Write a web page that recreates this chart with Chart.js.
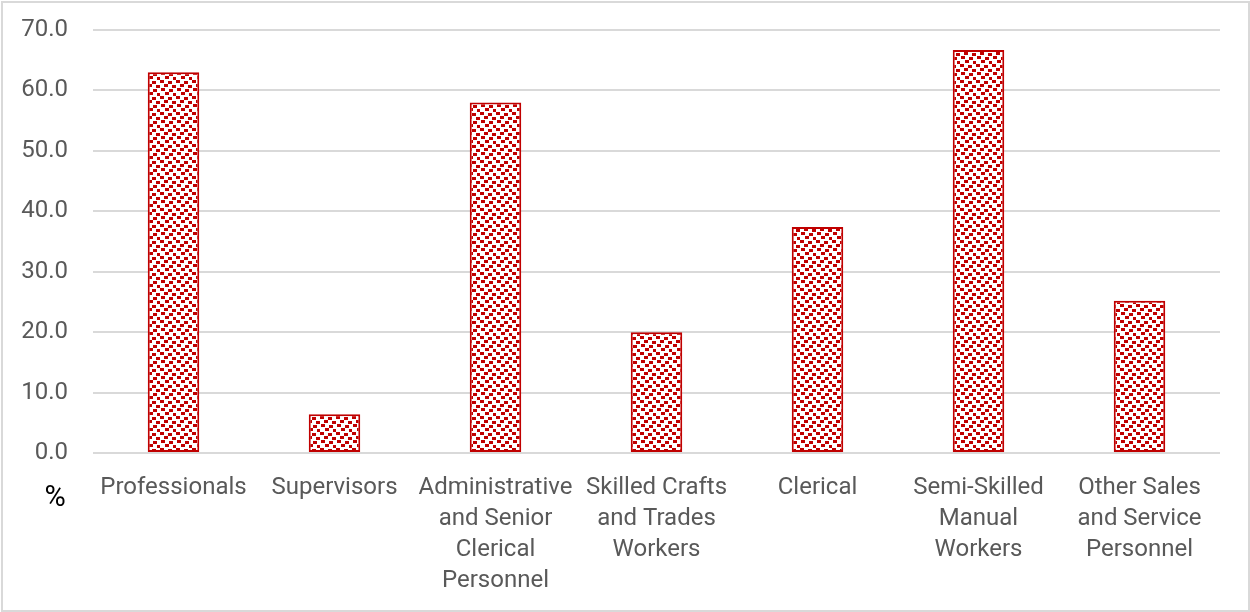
<!DOCTYPE html>
<html>
<head>
<meta charset="utf-8">
<script src="https://cdn.jsdelivr.net/npm/chart.js@4.4.1/dist/chart.umd.min.js"></script>
<style>
  html, body { margin: 0; padding: 0; background: #ffffff; }
  #wrap { position: relative; width: 1250px; height: 612px; }
  #frame { position: absolute; left: 1px; top: 1px; width: 1245px; height: 607px; border: 2px solid #d9d9d9; pointer-events: none; }
  canvas { position: absolute; left: 0; top: 0; }
</style>
</head>
<body>
<div id="wrap">
  <canvas id="chart" width="1250" height="612"></canvas>
  <div id="frame"></div>
</div>
<script>
// Occupational groups and their share (%)
const categories = [
  'Professionals',
  'Supervisors',
  ['Administrative', 'and Senior', 'Clerical', 'Personnel'],
  ['Skilled Crafts', 'and Trades', 'Workers'],
  'Clerical',
  ['Semi-Skilled', 'Manual', 'Workers'],
  ['Other Sales', 'and Service', 'Personnel']
];
const shareValues = [63.0, 6.4, 58.0, 20.0, 37.4, 66.7, 25.2];
const yTicks = [0, 10, 20, 30, 40, 50, 60, 70];
const unitLabel = '%';

const RED = '#c00000';
const TEXT = '#595959';
const GRID = '#d9d9d9';
const FONT = 'Roboto, "Liberation Sans", sans-serif';

// Confetti-style fill: small red squares scattered on white
function confettiPattern() {
  const t = document.createElement('canvas');
  t.width = 16; t.height = 16;
  const c = t.getContext('2d');
  c.fillStyle = '#ffffff';
  c.fillRect(0, 0, 16, 16);
  c.fillStyle = RED;
  const squares = [[0,0],[8,1],[4,4],[12,5],[1,8],[9,9],[5,12],[13,13]];
  squares.forEach(([x, y]) => c.fillRect(x, y, 4, 3));
  return document.getElementById('chart').getContext('2d').createPattern(t, 'repeat');
}

const unitPlugin = {
  id: 'unitLabel',
  afterDraw(chart) {
    const ctx = chart.ctx;
    ctx.save();
    ctx.fillStyle = '#000000';
    ctx.font = '29px ' + FONT;
    ctx.textAlign = 'center';
    ctx.textBaseline = 'middle';
    ctx.fillText(unitLabel, 55, chart.chartArea.bottom + 46);
    ctx.restore();
  }
};

new Chart(document.getElementById('chart'), {
  type: 'bar',
  data: {
    labels: categories,
    datasets: [{
      data: shareValues,
      backgroundColor: confettiPattern(),
      borderColor: RED,
      borderWidth: 2,
      borderSkipped: false,
      categoryPercentage: 1,
      barPercentage: 0.32
    }]
  },
  options: {
    responsive: false,
    animation: false,
    layout: { padding: { left: 0, right: 30, top: 30, bottom: 0 } },
    plugins: { legend: { display: false }, tooltip: { enabled: false } },
    scales: {
      x: {
        grid: { display: false },
        border: { display: false },
        ticks: {
          color: TEXT,
          font: { family: FONT, size: 24, lineHeight: 1.28 },
          padding: 12,
          maxRotation: 0,
          autoSkip: false
        },
        afterFit(scale) { scale.height = 159; scale.paddingLeft = 0; scale.paddingRight = 0; }
      },
      y: {
        min: 0,
        max: 70,
        afterBuildTicks(scale) { scale.ticks = yTicks.map(v => ({ value: v })); },
        grid: { color: GRID, lineWidth: 2, drawTicks: false },
        border: { display: false },
        ticks: {
          color: TEXT,
          font: { family: FONT, size: 24 },
          padding: 25,
          callback: v => v.toFixed(1)
        },
        afterFit(scale) { scale.width = 93; scale.paddingTop = 0; scale.paddingBottom = 0; }
      }
    }
  },
  plugins: [unitPlugin]
});
</script>
</body>
</html>
